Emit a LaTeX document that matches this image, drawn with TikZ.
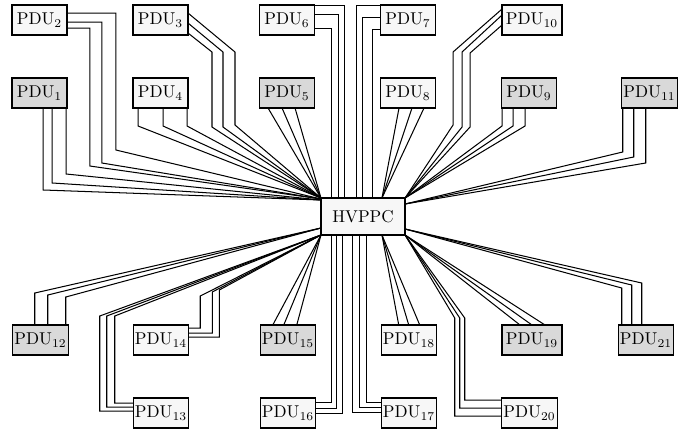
\documentclass[tikz,border=0pt]{standalone}
\usetikzlibrary{calc}
\begin{document}
\begin{tikzpicture}[x=0.584pt,y=-0.584pt,
  pdu/.style={draw,line width=0.65pt,minimum width=32.1pt,minimum height=17.5pt,inner sep=1pt,outer sep=0pt,fill=white!97!black},
  pdug/.style={pdu,fill=gray!30},
  wide/.style={minimum width=35pt},
  wire/.style={line width=0.6pt}]
\useasboundingbox (0,0) rectangle (690,434);
% nodes
\node[pdug] (p1)  at (39.5,93)  {PDU$_{1}$};
\node[pdu]  (p2)  at (39.5,20)  {PDU$_{2}$};
\node[pdu]  (p3)  at (160.5,20) {PDU$_{3}$};
\node[pdu]  (p4)  at (160.5,93) {PDU$_{4}$};
\node[pdug] (p5)  at (287,93)   {PDU$_{5}$};
\node[pdu]  (p6)  at (287,20)   {PDU$_{6}$};
\node[pdu]  (p7)  at (408,20)   {PDU$_{7}$};
\node[pdu]  (p8)  at (408,93)   {PDU$_{8}$};
\node[pdug] (p9)  at (529,93)   {PDU$_{9}$};
\node[pdu,wide]  (p10) at (532,20)   {PDU$_{10}$};
\node[pdug] (p11) at (649.5,93) {PDU$_{11}$};
\node[pdug] (p12) at (40.5,340) {PDU$_{12}$};
\node[pdu]  (p13) at (161,413)  {PDU$_{13}$};
\node[pdu]  (p14) at (161,340)  {PDU$_{14}$};
\node[pdug] (p15) at (288,340)  {PDU$_{15}$};
\node[pdu]  (p16) at (288,413)  {PDU$_{16}$};
\node[pdu]  (p17) at (409,413)  {PDU$_{17}$};
\node[pdu]  (p18) at (409,340)  {PDU$_{18}$};
\node[pdug,wide] (p19) at (532,340) {PDU$_{19}$};
\node[pdu]  (p20) at (529.5,413) {PDU$_{20}$};
\node[pdug] (p21) at (646,340)  {PDU$_{21}$};
\node[pdu,fill=white!97!black,minimum width=49.1pt,minimum height=21.6pt] (hv) at (363,216.5) {HVPPC};
% PDU1
\draw[wire] ($(p1.south west)+(31,0)$) -- ++(0,82) -- ($(hv.north west)+(0,2)$);
\draw[wire] ($(p1.south west)+(40,0)$) -- ++(0,75) -- ($(hv.north west)+(0,2)$);
\draw[wire] ($(p1.south west)+(54,0)$) -- ++(0,66) -- ($(hv.north west)+(0,2)$);
% PDU2
\draw[wire] ($(p2.north east)+(0,8)$) -- ++(49,0) -- ++(0,137) -- ($(hv.north west)+(0,1)$);
\draw[wire] ($(p2.north east)+(0,17)$) -- ++(35,0) -- ++(0,141) -- ($(hv.north west)+(0,1)$);
\draw[wire] ($(p2.north east)+(0,23)$) -- ++(23,0) -- ++(0,138) -- ($(hv.north west)+(0,1)$);
% PDU3
\draw[wire] ($(p3.north east)+(0,8)$) -- ++(47,39) -- ++(0,73) -- (hv.north west);
\draw[wire] ($(p3.north east)+(0,18)$) -- ++(35,29) -- ++(0,75) -- (hv.north west);
\draw[wire] ($(p3.north east)+(0,28)$) -- ++(24,19) -- ++(0,75) -- (hv.north west);
% PDU4
\draw[wire] ($(p4.south west)+(5,0)$) -- ++(0,18) -- (hv.north west);
\draw[wire] ($(p4.south west)+(30,0)$) -- ++(0,18) -- (hv.north west);
\draw[wire] ($(p4.south west)+(54,0)$) -- ++(0,18) -- (hv.north west);
% PDU5
\draw[wire] ($(p5.south west)+(8.5,0)$) -- (hv.north west);
\draw[wire] ($(p5.south west)+(22.5,0)$) -- (hv.north west);
\draw[wire] ($(p5.south west)+(35.5,0)$) -- (hv.north west);
% PDU6
\draw[wire] ($(hv.north west)+(24,0)$) |- ($(p6.north east)+(0,0.7)$);
\draw[wire] ($(hv.north west)+(18,0)$) |- ($(p6.north east)+(0,9)$);
\draw[wire] ($(hv.north west)+(11,0)$) |- ($(p6.north east)+(0,23)$);
% PDU7
\draw[wire] ($(hv.north west)+(36,0)$) |- (p7.north west);
\draw[wire] ($(hv.north west)+(42,0)$) |- ($(p7.north west)+(0,12)$);
\draw[wire] ($(hv.north west)+(52,0)$) |- ($(p7.north west)+(0,24)$);
% PDU8
\draw[wire] ($(p8.south west)+(18.5,0)$) -- ($(hv.north west)+(61,0)$);
\draw[wire] ($(p8.south west)+(31.5,0)$) -- ($(hv.north west)+(61,0)$);
\draw[wire] ($(p8.south west)+(43.5,0)$) -- ($(hv.north west)+(61,0)$);
% PDU9
\draw[wire] ($(p9.south west)+(0.5,0)$) -- ++(0,18) -- (hv.north east);
\draw[wire] ($(p9.south west)+(11.5,0)$) -- ++(0,18) -- (hv.north east);
\draw[wire] ($(p9.south west)+(23.5,0)$) -- ++(0,18) -- (hv.north east);
% PDU10
\draw[wire] ($(p10.north west)+(0,4)$) -- ++(-49,43) -- ++(0,73) -- (hv.north east);
\draw[wire] ($(p10.north west)+(0,10)$) -- ++(-40,37) -- ++(0,75) -- (hv.north east);
\draw[wire] ($(p10.north west)+(0,20)$) -- ++(-32,28) -- ++(0,74) -- (hv.north east);
% PDU11
\draw[wire] ($(p11.south west)+(1,0)$) -- ++(0,44) -- ($(hv.north east)+(0,6)$);
\draw[wire] ($(p11.south west)+(12,0)$) -- ++(0,49) -- ($(hv.north east)+(0,6)$);
\draw[wire] ($(p11.south west)+(24,0)$) -- ++(0,55) -- ($(hv.north east)+(0,6)$);
% PDU12
\draw[wire] ($(p12.north west)+(22,0)$) -- ++(0,-32) -- ($(hv.south west)+(0,-7)$);
\draw[wire] ($(p12.north west)+(35,0)$) -- ++(0,-30) -- ($(hv.south west)+(0,-7)$);
\draw[wire] ($(p12.north west)+(53,0)$) -- ++(0,-28) -- ($(hv.south west)+(0,-7)$);
% PDU13
\draw[wire] ($(p13.north west)+(0,5)$) -- ++(-18.5,0) -- ++(0,-87) -- (hv.south west);
\draw[wire] ($(p13.north west)+(0,9)$) -- ++(-26.5,0) -- ++(0,-91) -- (hv.south west);
\draw[wire] ($(p13.north west)+(0,13)$) -- ++(-33.5,0) -- ++(0,-95) -- (hv.south west);
% PDU14
\draw[wire] ($(p14.north east)+(0,3)$) -- ++(11.5,0) -- ++(0,-32) -- (hv.south west);
\draw[wire] ($(p14.north east)+(0,8)$) -- ++(23.5,0) -- ++(0,-41) -- (hv.south west);
\draw[wire] ($(p14.north east)+(0,12)$) -- ++(30.5,0) -- ++(0,-47) -- (hv.south west);
% PDU15
\draw[wire] ($(p15.north west)+(12.5,0)$) -- (hv.south west);
\draw[wire] ($(p15.north west)+(23.5,0)$) -- (hv.south west);
\draw[wire] ($(p15.north west)+(36.5,0)$) -- (hv.south west);
% PDU16
\draw[wire] ($(hv.south west)+(11,0)$) |- ($(p16.north east)+(0,4)$);
\draw[wire] ($(hv.south west)+(16,0)$) |- ($(p16.north east)+(0,10)$);
\draw[wire] ($(hv.south west)+(22,0)$) |- ($(p16.north east)+(0,15)$);
% PDU17
\draw[wire] ($(hv.south west)+(46,0)$) |- ($(p17.north west)+(0,4)$);
\draw[wire] ($(hv.south west)+(39,0)$) |- ($(p17.north west)+(0,9)$);
\draw[wire] ($(hv.south west)+(32,0)$) |- ($(p17.north west)+(0,14)$);
% PDU18
\draw[wire] ($(p18.north west)+(17.5,0)$) -- ($(hv.south west)+(61,0)$);
\draw[wire] ($(p18.north west)+(27.5,0)$) -- ($(hv.south west)+(61,0)$);
\draw[wire] ($(p18.north west)+(38.5,0)$) -- ($(hv.south west)+(61,0)$);
% PDU19
\draw[wire] ($(p19.north west)+(18,0)$) -- (hv.south east);
\draw[wire] ($(p19.north west)+(30,0)$) -- (hv.south east);
\draw[wire] ($(p19.north west)+(43,0)$) -- (hv.south east);
% PDU20
\draw[wire] ($(p20.north west)+(0,2)$) -- ++(-37,0) -- ++(0,-82) -- (hv.south east);
\draw[wire] ($(p20.north west)+(0,10)$) -- ++(-42,0) -- ++(0,-90) -- (hv.south east);
\draw[wire] ($(p20.north west)+(0,18)$) -- ++(-47,0) -- ++(0,-98) -- (hv.south east);
% PDU21
\draw[wire] ($(p21.north west)+(3.5,0)$) -- ++(0,-37) -- ($(hv.south east)+(0,-6)$);
\draw[wire] ($(p21.north west)+(13.5,0)$) -- ++(0,-40) -- ($(hv.south east)+(0,-6)$);
\draw[wire] ($(p21.north west)+(23.5,0)$) -- ++(0,-42) -- ($(hv.south east)+(0,-6)$);
\end{tikzpicture}
\end{document}
